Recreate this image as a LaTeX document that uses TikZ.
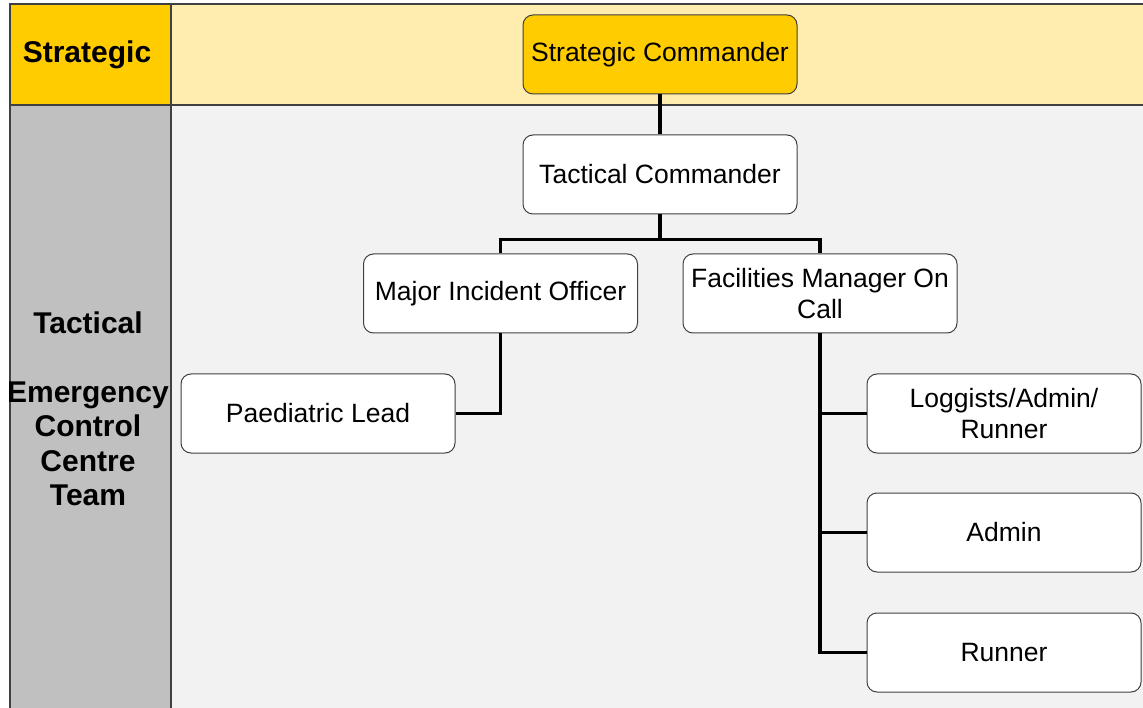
\documentclass[tikz,border=0pt]{standalone}
\usepackage{fontspec}
\setmainfont{Liberation Sans}
\usepackage{tikz}
\usetikzlibrary{positioning}
\definecolor{stratyellow}{RGB}{255,204,0}
\definecolor{stratpale}{RGB}{255,237,176}
\definecolor{tactgrey}{RGB}{192,192,192}
\definecolor{tactpale}{RGB}{242,242,242}
\definecolor{edgegrey}{RGB}{64,64,64}

\begin{document}
\begin{tikzpicture}[
    x=1pt, y=-1pt,
    role/.style={rectangle, rounded corners=10pt, draw=edgegrey, fill=white, line width=1pt, minimum width=274pt, minimum height=79pt, align=center, font=\fontsize{26.5}{31}\selectfont, inner sep=2pt},
    tier/.style={align=center, font=\fontsize{30}{34.5}\selectfont\bfseries},
    conn/.style={line width=3.5pt, black}
]
    \useasboundingbox (0,0) rectangle (1143,708);

    % Bands
    \fill[stratyellow] (10,4) rectangle (171,105);
    \fill[stratpale] (171,4) rectangle (1160,105);
    \fill[tactgrey] (10,105) rectangle (171,720);
    \fill[tactpale] (171,105) rectangle (1160,720);
    \draw[edgegrey, line width=1.5pt] (10,720) -- (10,4) -- (1160,4);
    \draw[edgegrey, line width=1.5pt] (10,105) -- (1160,105);
    \draw[edgegrey, line width=1.5pt] (171,4) -- (171,720);

    % Tier labels
    \node[tier] (strattier) at (87,55) {Strategic};
    \node[tier] (tacttier) at (88,409) {Tactical\\[34.5pt]Emergency\\Control\\Centre\\Team};

    % Command roles
    \node[role, fill=stratyellow] (strat) at (660,54.5) {Strategic Commander};
    \node[role] (tact) at (660,174.5) {Tactical Commander};
    \node[role] (mio) at (500.5,293.5) {Major Incident Officer};
    \node[role] (fmoc) at (820,293.5) {Facilities Manager On\\Call};

    % Support roles
    \node[role] (paed) at (318,413.5) {Paediatric Lead};
    \node[role] (logg) at (1004,413.5) {Loggists/Admin/\\Runner};
    \node[role] (admin) at (1004,532.5) {Admin};
    \node[role] (runner) at (1004,652.5) {Runner};

    % Lines of command
    \draw[conn] (strat) -- (tact);
    \draw[conn] (tact.south) -- ++(0,25) -| (mio.north);
    \draw[conn] (tact.south) -- ++(0,25) -| (fmoc.north);
    \draw[conn] (mio.south) |- (paed.east);
    \draw[conn] (fmoc.south) |- (logg.west);
    \draw[conn] (fmoc.south) |- (admin.west);
    \draw[conn] (fmoc.south) |- (runner.west);
\end{tikzpicture}
\end{document}
